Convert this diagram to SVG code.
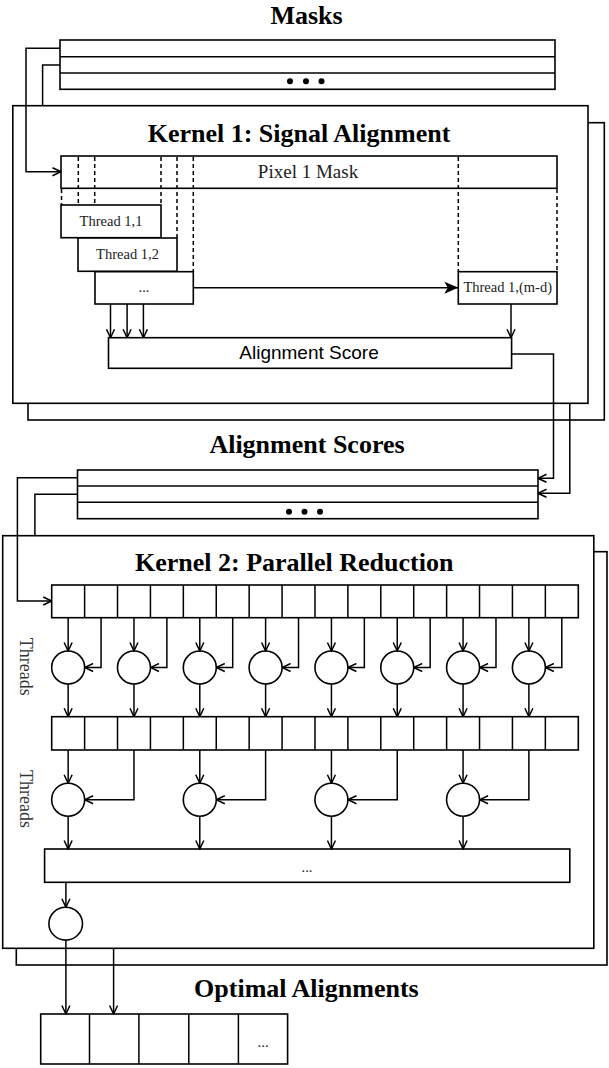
<svg xmlns="http://www.w3.org/2000/svg" width="609" height="1068" viewBox="0 0 609 1068">
<style>
.b{fill:#fff;stroke:#000;stroke-width:1.6}
.n{fill:none;stroke:#000;stroke-width:1.5}
.d{fill:none;stroke:#000;stroke-width:1.5;stroke-dasharray:4 3}
.c{fill:none;stroke:#000;stroke-width:1.5}
.t{font-family:"Liberation Serif",serif;font-weight:bold;font-size:26px;text-anchor:middle;fill:#000}
.s{font-family:"Liberation Serif",serif;font-size:14.5px;text-anchor:middle;fill:#222}
.p{font-family:"Liberation Serif",serif;font-size:19px;text-anchor:middle;fill:#222}
.a{font-family:"Liberation Sans",sans-serif;font-size:19px;text-anchor:middle;fill:#000}
.th{font-family:"Liberation Serif",serif;font-size:18px;text-anchor:middle;fill:#333}
</style>
<defs>
<marker id="o" viewBox="0 0 10 10" markerWidth="10" markerHeight="10" refX="9.5" refY="5" orient="auto" markerUnits="userSpaceOnUse"><path d="M1,1 L9.5,5 L1,9" fill="none" stroke="#000" stroke-width="1.5"/></marker>
<marker id="f" viewBox="0 0 14 12" markerWidth="14" markerHeight="12" refX="14" refY="6" orient="auto" markerUnits="userSpaceOnUse"><path d="M0,0 L14,6 L0,12 L3.5,6 z" fill="#000"/></marker>
</defs>
<rect width="609" height="1068" fill="#fff"/>

<g id="title-masks"><text class="t" x="306.5" y="24">Masks</text></g>
<g id="masks">
<rect class="b" x="60" y="40" width="495" height="49.3"/>
<line class="n" x1="60" y1="56.7" x2="555" y2="56.7"/>
<line class="n" x1="60" y1="73" x2="555" y2="73"/>
<circle cx="290" cy="81.3" r="3"/><circle cx="306" cy="81.3" r="3"/><circle cx="321.5" cy="81.3" r="3"/>
</g>

<g id="kernel1">
<rect class="b" x="28" y="122.7" width="576.3" height="297.3"/>
<rect class="b" x="12.8" y="105.7" width="575.2" height="297.6"/>
<text class="t" x="299" y="141.7">Kernel 1: Signal Alignment</text>
</g>
<g id="pixel-mask">
<rect class="b" x="61" y="156" width="496" height="32.3"/>
<text class="p" x="308" y="177.7">Pixel 1 Mask</text>
</g>
<g id="dashes">
<line class="d" x1="61.5" y1="189" x2="61.5" y2="205"/>
<line class="d" x1="78.3" y1="157" x2="78.3" y2="205"/>
<line class="d" x1="94.7" y1="157" x2="94.7" y2="205"/>
<line class="d" x1="161" y1="157" x2="161" y2="205"/>
<line class="d" x1="177" y1="157" x2="177" y2="238"/>
<line class="d" x1="193.3" y1="157" x2="193.3" y2="271.7"/>
<line class="d" x1="458.3" y1="157" x2="458.3" y2="271.7"/>
<line class="d" x1="557" y1="189" x2="557" y2="271.7"/>
</g>
<g id="thread11"><rect class="b" x="61" y="205" width="100" height="32.7"/><text class="s" x="111" y="226">Thread 1,1</text></g>
<g id="thread12"><rect class="b" x="78" y="238" width="99" height="33.3"/><text class="s" x="127.5" y="259.3">Thread 1,2</text></g>
<g id="thread-more"><rect class="b" x="95" y="271.7" width="98.3" height="32.3"/><text class="s" x="144" y="292">...</text></g>
<g id="thread-md"><rect class="b" x="458.3" y="271.7" width="98.7" height="32.3"/><text class="s" x="507.7" y="291.7">Thread 1,(m-d)</text></g>
<g id="alignment-score"><rect class="b" x="108.5" y="337.7" width="403.1" height="30.6"/><text class="a" x="309" y="358.6">Alignment Score</text></g>

<g id="title-scores"><text class="t" x="307" y="453.3">Alignment Scores</text></g>
<g id="scores">
<rect class="b" x="77.5" y="470" width="460.5" height="48.7"/>
<line class="n" x1="77.5" y1="486" x2="538" y2="486"/>
<line class="n" x1="77.5" y1="502.3" x2="538" y2="502.3"/>
<circle cx="289" cy="511.8" r="3"/><circle cx="304.5" cy="511.8" r="3"/><circle cx="320" cy="511.8" r="3"/>
</g>

<g id="kernel2">
<rect class="b" x="16.3" y="551.7" width="590.7" height="413.3"/>
<rect class="b" x="2.7" y="535.7" width="591.1" height="412.6"/>
<text class="t" x="294.2" y="570.7">Kernel 2: Parallel Reduction</text>
<text class="th" transform="translate(20,666.7) rotate(90)" x="0" y="0">Threads</text>
<text class="th" transform="translate(20,799) rotate(90)" x="0" y="0">Threads</text>
</g>
<g id="array1">
<rect class="b" x="51.7" y="585" width="526.6" height="32.7"/>
<path class="n" d="M84.61,585V617.7M117.52,585V617.7M150.43,585V617.7M183.34,585V617.7M216.25,585V617.7M249.16,585V617.7M282.07,585V617.7M314.98,585V617.7M347.89,585V617.7M380.8,585V617.7M413.71,585V617.7M446.62,585V617.7M479.53,585V617.7M512.44,585V617.7M545.35,585V617.7"/>
</g>
<g id="array2">
<rect class="b" x="51.7" y="716.7" width="526.6" height="33.3"/>
<path class="n" d="M84.61,716.7V750M117.52,716.7V750M150.43,716.7V750M183.34,716.7V750M216.25,716.7V750M249.16,716.7V750M282.07,716.7V750M314.98,716.7V750M347.89,716.7V750M380.8,716.7V750M413.71,716.7V750M446.62,716.7V750M479.53,716.7V750M512.44,716.7V750M545.35,716.7V750"/>
</g>
<g id="level1">
<circle class="b" cx="68.15" cy="667.5" r="16.5"/>
<circle class="b" cx="133.97" cy="667.5" r="16.5"/>
<circle class="b" cx="199.79" cy="667.5" r="16.5"/>
<circle class="b" cx="265.61" cy="667.5" r="16.5"/>
<circle class="b" cx="331.43" cy="667.5" r="16.5"/>
<circle class="b" cx="397.25" cy="667.5" r="16.5"/>
<circle class="b" cx="463.07" cy="667.5" r="16.5"/>
<circle class="b" cx="528.89" cy="667.5" r="16.5"/>
</g>
<g id="level2">
<circle class="b" cx="68.15" cy="799.7" r="16.5"/>
<circle class="b" cx="199.79" cy="799.7" r="16.5"/>
<circle class="b" cx="331.43" cy="799.7" r="16.5"/>
<circle class="b" cx="463.07" cy="799.7" r="16.5"/>
</g>
<g id="partial"><rect class="b" x="44.6" y="849" width="525.2" height="33.3"/><text class="s" x="307" y="872">...</text></g>
<g id="final"><ellipse class="b" cx="65.7" cy="923.7" rx="16.8" ry="16.4"/></g>

<g id="title-optimal"><text class="t" x="306.4" y="997.3">Optimal Alignments</text></g>
<g id="optimal">
<rect class="b" x="40.7" y="1014" width="246.9" height="50"/>
<path class="n" d="M89.5,1014V1064M138.9,1014V1064M188.8,1014V1064M238.4,1014V1064"/>
<text class="s" x="263" y="1047" style="font-size:15px">...</text>
</g>

<g id="connectors">
<polyline class="c" points="60,48.3 26,48.3 26,171.7 61,171.7" marker-end="url(#o)"/>
<polyline class="c" points="60,65 42.6,65 42.6,105.7"/>
<line class="c" x1="193.3" y1="287.7" x2="458.3" y2="287.7" marker-end="url(#f)"/>
<line class="c" x1="110.5" y1="304" x2="110.5" y2="337.7" marker-end="url(#o)"/>
<line class="c" x1="127.1" y1="304" x2="127.1" y2="337.7" marker-end="url(#o)"/>
<line class="c" x1="143.4" y1="304" x2="143.4" y2="337.7" marker-end="url(#o)"/>
<line class="c" x1="511" y1="304" x2="511" y2="337.7" marker-end="url(#o)"/>
<polyline class="c" points="511.6,354 553.5,354 553.5,478.3 538,478.3" marker-end="url(#o)"/>
<polyline class="c" points="569.8,403.3 569.8,493.3 538,493.3" marker-end="url(#o)"/>
<polyline class="c" points="77.5,477.7 17.4,477.7 17.4,601 51.7,601" marker-end="url(#o)"/>
<polyline class="c" points="77.5,494.3 34.9,494.3 34.9,535.7"/>
<g id="l1-conn">
<line class="c" x1="68.15" y1="617.7" x2="68.15" y2="651" marker-end="url(#o)"/>
<polyline class="c" points="101.06,617.7 101.06,667.5 84.65,667.5" marker-end="url(#o)"/>
<line class="c" x1="68.15" y1="684" x2="68.15" y2="716.7" marker-end="url(#o)"/>
<line class="c" x1="133.97" y1="617.7" x2="133.97" y2="651" marker-end="url(#o)"/>
<polyline class="c" points="166.88,617.7 166.88,667.5 150.47,667.5" marker-end="url(#o)"/>
<line class="c" x1="133.97" y1="684" x2="133.97" y2="716.7" marker-end="url(#o)"/>
<line class="c" x1="199.79" y1="617.7" x2="199.79" y2="651" marker-end="url(#o)"/>
<polyline class="c" points="232.7,617.7 232.7,667.5 216.29,667.5" marker-end="url(#o)"/>
<line class="c" x1="199.79" y1="684" x2="199.79" y2="716.7" marker-end="url(#o)"/>
<line class="c" x1="265.61" y1="617.7" x2="265.61" y2="651" marker-end="url(#o)"/>
<polyline class="c" points="298.52,617.7 298.52,667.5 282.11,667.5" marker-end="url(#o)"/>
<line class="c" x1="265.61" y1="684" x2="265.61" y2="716.7" marker-end="url(#o)"/>
<line class="c" x1="331.43" y1="617.7" x2="331.43" y2="651" marker-end="url(#o)"/>
<polyline class="c" points="364.34,617.7 364.34,667.5 347.93,667.5" marker-end="url(#o)"/>
<line class="c" x1="331.43" y1="684" x2="331.43" y2="716.7" marker-end="url(#o)"/>
<line class="c" x1="397.25" y1="617.7" x2="397.25" y2="651" marker-end="url(#o)"/>
<polyline class="c" points="430.16,617.7 430.16,667.5 413.75,667.5" marker-end="url(#o)"/>
<line class="c" x1="397.25" y1="684" x2="397.25" y2="716.7" marker-end="url(#o)"/>
<line class="c" x1="463.07" y1="617.7" x2="463.07" y2="651" marker-end="url(#o)"/>
<polyline class="c" points="495.98,617.7 495.98,667.5 479.57,667.5" marker-end="url(#o)"/>
<line class="c" x1="463.07" y1="684" x2="463.07" y2="716.7" marker-end="url(#o)"/>
<line class="c" x1="528.89" y1="617.7" x2="528.89" y2="651" marker-end="url(#o)"/>
<polyline class="c" points="561.8,617.7 561.8,667.5 545.39,667.5" marker-end="url(#o)"/>
<line class="c" x1="528.89" y1="684" x2="528.89" y2="716.7" marker-end="url(#o)"/>
</g>
<g id="l2-conn">
<line class="c" x1="68.15" y1="750" x2="68.15" y2="783.2" marker-end="url(#o)"/>
<polyline class="c" points="133.97,750 133.97,799.7 84.65,799.7" marker-end="url(#o)"/>
<line class="c" x1="68.15" y1="816.2" x2="68.15" y2="849" marker-end="url(#o)"/>
<line class="c" x1="199.79" y1="750" x2="199.79" y2="783.2" marker-end="url(#o)"/>
<polyline class="c" points="265.61,750 265.61,799.7 216.29,799.7" marker-end="url(#o)"/>
<line class="c" x1="199.79" y1="816.2" x2="199.79" y2="849" marker-end="url(#o)"/>
<line class="c" x1="331.43" y1="750" x2="331.43" y2="783.2" marker-end="url(#o)"/>
<polyline class="c" points="397.25,750 397.25,799.7 347.93,799.7" marker-end="url(#o)"/>
<line class="c" x1="331.43" y1="816.2" x2="331.43" y2="849" marker-end="url(#o)"/>
<line class="c" x1="463.07" y1="750" x2="463.07" y2="783.2" marker-end="url(#o)"/>
<polyline class="c" points="528.89,750 528.89,799.7 479.57,799.7" marker-end="url(#o)"/>
<line class="c" x1="463.07" y1="816.2" x2="463.07" y2="849" marker-end="url(#o)"/>
</g>
<line class="c" x1="65.9" y1="882.3" x2="65.9" y2="907.3" marker-end="url(#o)"/>
<line class="c" x1="65.9" y1="940.1" x2="65.9" y2="1014" marker-end="url(#o)"/>
<line class="c" x1="113.6" y1="948.3" x2="113.6" y2="1014" marker-end="url(#o)"/>
</g>
</svg>
